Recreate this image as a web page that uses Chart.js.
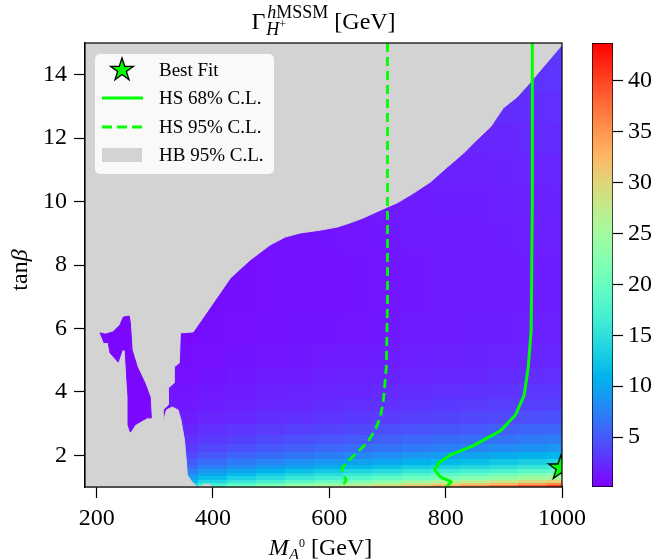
<!DOCTYPE html>
<html>
<head>
<meta charset="utf-8">
<title>Charged Higgs width, hMSSM</title>
<script src="https://cdn.jsdelivr.net/npm/chart.js@4.4.1/dist/chart.umd.min.js"></script>
<style>
  html, body { margin: 0; padding: 0; background: #fff; }
  #wrap { position: relative; width: 659px; height: 559px; }
  #wrap canvas { position: absolute; top: 0; }
  #mainChart { left: 0; }
  #cbChart { left: 570px; }
</style>
</head>
<body>
<div id="wrap">
  <canvas id="mainChart" width="659" height="559"></canvas>
  <canvas id="cbChart" width="89" height="559"></canvas>
</div>
<script>
// ---- data ----
const massA = [200, 250, 300, 350, 400, 450, 500, 550, 600, 650, 700, 750, 800, 850, 900, 950, 1000];
const tanBeta = [1.0, 1.05, 1.1, 1.2, 1.3, 1.4, 1.5, 1.65, 1.8, 2.0, 2.25, 2.5, 2.8, 3.2, 3.6, 4.0, 4.5, 5, 6, 7, 8, 9, 10, 11, 12, 13, 14, 15];

// Gamma(H+) in GeV, one row per tanBeta, one column per massA
const widthGeV = [
  [2.2, 6.5, 11.7, 16.1, 19.6, 22.2, 24.4, 26.5, 28.3, 30.5, 32.2, 34.4, 36.1, 37.8, 39.6, 41.8, 43.5],
  [2.0, 6.0, 10.8, 14.8, 18.0, 20.4, 22.4, 24.4, 26.0, 28.0, 29.6, 31.6, 33.2, 34.8, 36.4, 38.4, 40.0],
  [1.8, 5.4, 9.7, 13.3, 16.2, 18.4, 20.2, 22.0, 23.4, 25.2, 26.6, 28.4, 29.9, 31.3, 32.8, 34.6, 36.0],
  [1.5, 4.6, 8.2, 11.3, 13.7, 15.6, 17.1, 18.6, 19.8, 21.4, 22.6, 24.1, 25.3, 26.5, 27.8, 29.3, 30.5],
  [1.3, 3.9, 7.0, 9.6, 11.7, 13.3, 14.6, 15.9, 16.9, 18.2, 19.2, 20.5, 21.6, 22.6, 23.7, 25.0, 26.0],
  [1.1, 3.4, 6.1, 8.3, 10.1, 11.5, 12.6, 13.7, 14.6, 15.8, 16.7, 17.8, 18.7, 19.6, 20.5, 21.6, 22.5],
  [1.0, 2.9, 5.3, 7.2, 8.8, 9.9, 10.9, 11.9, 12.7, 13.7, 14.4, 15.4, 16.2, 17.0, 17.7, 18.7, 19.5],
  [0.8, 2.4, 4.4, 6.0, 7.3, 8.3, 9.1, 9.9, 10.5, 11.3, 12.0, 12.8, 13.4, 14.1, 14.7, 15.6, 16.2],
  [0.7, 2.1, 3.7, 5.1, 6.2, 7.0, 7.7, 8.4, 8.9, 9.6, 10.1, 10.8, 11.4, 11.9, 12.5, 13.2, 13.7],
  [0.6, 1.7, 3.0, 4.1, 5.0, 5.7, 6.3, 6.8, 7.3, 7.8, 8.3, 8.8, 9.3, 9.7, 10.2, 10.8, 11.2],
  [0.5, 1.3, 2.4, 3.3, 4.0, 4.5, 5.0, 5.4, 5.8, 6.2, 6.6, 7.0, 7.4, 7.7, 8.1, 8.5, 8.9],
  [0.4, 1.1, 2.0, 2.7, 3.3, 3.7, 4.1, 4.5, 4.7, 5.1, 5.4, 5.8, 6.1, 6.4, 6.6, 7.0, 7.3],
  [0.3, 0.9, 1.6, 2.2, 2.7, 3.0, 3.3, 3.6, 3.8, 4.1, 4.4, 4.7, 4.9, 5.1, 5.4, 5.7, 5.9],
  [0.2, 0.7, 1.2, 1.7, 2.1, 2.3, 2.6, 2.8, 3.0, 3.2, 3.4, 3.6, 3.8, 4.0, 4.2, 4.4, 4.6],
  [0.2, 0.6, 1.0, 1.4, 1.7, 1.9, 2.1, 2.3, 2.5, 2.7, 2.8, 3.0, 3.2, 3.3, 3.5, 3.6, 3.8],
  [0.2, 0.5, 0.9, 1.2, 1.4, 1.6, 1.8, 2.0, 2.1, 2.2, 2.4, 2.5, 2.7, 2.8, 2.9, 3.1, 3.2],
  [0.1, 0.4, 0.7, 1.0, 1.2, 1.4, 1.5, 1.6, 1.8, 1.9, 2.0, 2.1, 2.2, 2.3, 2.5, 2.6, 2.7],
  [0.1, 0.3, 0.6, 0.9, 1.0, 1.2, 1.3, 1.4, 1.5, 1.6, 1.7, 1.8, 1.9, 2.0, 2.1, 2.2, 2.3],
  [0.1, 0.3, 0.5, 0.7, 0.9, 1.0, 1.1, 1.2, 1.2, 1.3, 1.4, 1.5, 1.6, 1.7, 1.7, 1.8, 1.9],
  [0.1, 0.3, 0.5, 0.6, 0.8, 0.9, 1.0, 1.1, 1.1, 1.2, 1.3, 1.4, 1.5, 1.5, 1.6, 1.7, 1.75],
  [0.1, 0.3, 0.5, 0.6, 0.8, 0.9, 1.0, 1.1, 1.1, 1.2, 1.3, 1.4, 1.5, 1.5, 1.6, 1.7, 1.75],
  [0.1, 0.3, 0.5, 0.7, 0.8, 0.9, 1.0, 1.1, 1.2, 1.3, 1.4, 1.5, 1.5, 1.6, 1.7, 1.8, 1.85],
  [0.1, 0.3, 0.5, 0.7, 0.9, 1.0, 1.1, 1.2, 1.3, 1.4, 1.5, 1.6, 1.7, 1.7, 1.8, 1.9, 2.0],
  [0.1, 0.3, 0.6, 0.8, 1.0, 1.1, 1.2, 1.3, 1.4, 1.5, 1.6, 1.7, 1.8, 1.9, 2.0, 2.1, 2.2],
  [0.1, 0.4, 0.7, 0.9, 1.1, 1.2, 1.4, 1.5, 1.6, 1.7, 1.8, 1.9, 2.0, 2.1, 2.2, 2.4, 2.45],
  [0.1, 0.4, 0.7, 1.0, 1.2, 1.4, 1.5, 1.6, 1.8, 1.9, 2.0, 2.1, 2.2, 2.3, 2.5, 2.6, 2.7],
  [0.2, 0.5, 0.8, 1.1, 1.4, 1.5, 1.7, 1.8, 2.0, 2.1, 2.2, 2.4, 2.5, 2.6, 2.7, 2.9, 3.0],
  [0.2, 0.5, 0.9, 1.2, 1.5, 1.7, 1.8, 2.0, 2.1, 2.3, 2.4, 2.6, 2.7, 2.9, 3.0, 3.2, 3.3]
];

// HiggsBounds 95% excluded region (M_A, tanBeta), traced around its edge
const hbExcluded = [
  [180, 15], [1000, 15], [1000, 14.94], [968, 14.25], [946, 13.77], [923, 13.30], [899, 12.95],
  [877, 12.35], [848, 11.85], [831, 11.53], [803, 11.09], [774, 10.62], [745, 10.27], [717, 9.96],
  [700, 9.83], [658, 9.48], [636, 9.33], [614, 9.20], [585, 9.10], [550, 9.01], [524, 8.88],
  [498, 8.63], [464, 8.16], [430, 7.59], [404, 6.90], [366, 5.89], [344, 5.86], [342, 4.91],
  [333, 4.78], [333, 4.28], [323, 4.12], [323, 3.59], [314, 3.43], [314, 3.02], [320, 3.43],
  [330, 3.52], [340, 3.43], [345, 3.11], [351, 2.48], [354, 1.85], [356, 1.38], [364, 1.16],
  [373, 1.0], [378, 1.0], [385, 1.09], [394, 1.09], [399, 1.0], [180, 1.0]
];
// allowed island inside the excluded region
const hbIsland = [
  [213, 5.54], [206, 5.86], [215, 5.82], [228, 5.89], [240, 6.11], [246, 6.36], [256, 6.39],
  [258, 6.17], [261, 5.32], [270, 4.78], [283, 4.28], [292, 3.84], [294, 3.18], [287, 3.18],
  [280, 3.11], [266, 2.96], [258, 2.73], [254, 2.96], [254, 3.84], [252, 4.37], [249, 5.32],
  [244, 5.32], [237, 4.94], [223, 5.23], [220, 5.54]
];
const islandWidth = 0.5;

// HiggsSignals contours
const hs68 = [
  [949, 15], [949, 10.05], [947, 5.95], [942, 4.78], [935, 3.90], [920, 3.27], [894, 2.77],
  [846, 2.29], [808, 2.01], [788, 1.76], [781, 1.54], [791, 1.32], [810, 1.16], [801, 1.0]
];
const hs95 = [
  [700, 15], [700, 6.90], [698, 4.78], [693, 3.74], [688, 3.22], [679, 2.80], [665, 2.39],
  [648, 2.10], [631, 1.79], [622, 1.60], [624, 1.38], [629, 1.22], [622, 1.0]
];
const bestFit = [998, 1.6];

const massTicks = [200, 400, 600, 800, 1000];
const tanbTicks = [2, 4, 6, 8, 10, 12, 14];
const cbTicks = [5, 10, 15, 20, 25, 30, 35, 40];
const cbMin = 0.1, cbMax = 43.7;
const legendLabels = ['Best Fit', 'HS 68% C.L.', 'HS 95% C.L.', 'HB 95% C.L.'];

// ---- styling ----
const SERIF = "'Liberation Serif', 'Times New Roman', serif";
const LIME = '#00ff00';
const HB_GRAY = '#d3d3d3';
const fnt = (size, italic) => (italic ? 'italic ' : '') + size + 'px ' + SERIF;

// matplotlib "rainbow"
function rainbow(f) {
  f = Math.min(1, Math.max(0, f));
  const r = Math.min(1, Math.abs(2 * f - 0.5));
  const g = Math.sin(Math.PI * f);
  const b = Math.cos(Math.PI * f / 2);
  return `rgb(${Math.round(r * 255)},${Math.round(g * 255)},${Math.round(b * 255)})`;
}
const widthColor = v => rainbow((v - cbMin) / (cbMax - cbMin));
const toXY = arr => arr.map(([x, y]) => ({ x, y }));

function cellEdges(centers, lo, hi) {
  return centers.map((c, i) => [
    i === 0 ? lo : (centers[i - 1] + c) / 2,
    i === centers.length - 1 ? hi : (c + centers[i + 1]) / 2
  ]);
}

function makeStar(R) {
  const c = document.createElement('canvas');
  const s = Math.ceil(R * 2 + 4);
  c.width = s; c.height = s;
  const g = c.getContext('2d');
  g.beginPath();
  for (let k = 0; k < 10; k++) {
    const r = k % 2 ? R * 0.382 : R;
    const a = -Math.PI / 2 + k * Math.PI / 5;
    g.lineTo(s / 2 + r * Math.cos(a), s / 2 + r * Math.sin(a));
  }
  g.closePath();
  g.fillStyle = LIME;
  g.fill();
  g.lineWidth = 1.3;
  g.strokeStyle = '#000';
  g.stroke();
  return c;
}
const starImg = makeStar(13);
const starLegend = makeStar(12);

function runWidth(ctx, parts) {
  let w = 0;
  for (const [txt, size, it] of parts) { ctx.font = fnt(size, it); w += ctx.measureText(txt).width; }
  return w;
}
function drawRun(ctx, parts, x, base) {
  for (const [txt, size, it, dy] of parts) {
    ctx.font = fnt(size, it);
    ctx.fillText(txt, x, base + dy);
    x += ctx.measureText(txt).width;
  }
  return x;
}

// heatmap cells, drawn under the datasets
const heatmapPlugin = {
  id: 'heatmap',
  beforeDatasetsDraw(chart) {
    const { ctx, chartArea: a, scales: { x, y } } = chart;
    const xe = cellEdges(massA, x.min, x.max);
    const ye = cellEdges(tanBeta, y.min, y.max);
    ctx.save();
    ctx.beginPath();
    ctx.rect(a.left, a.top, a.right - a.left, a.bottom - a.top);
    ctx.clip();
    ye.forEach(([t0, t1], i) => {
      const py0 = y.getPixelForValue(t1), py1 = y.getPixelForValue(t0);
      xe.forEach(([m0, m1], j) => {
        const px0 = x.getPixelForValue(m0), px1 = x.getPixelForValue(m1);
        ctx.fillStyle = widthColor(widthGeV[i][j]);
        ctx.fillRect(Math.floor(px0), Math.floor(py0), Math.ceil(px1) - Math.floor(px0), Math.ceil(py1) - Math.floor(py0));
      });
    });
    ctx.restore();
  }
};

// frame, titles and legend
const decorPlugin = {
  id: 'decor',
  afterDatasetsDraw(chart) {
    const { ctx, chartArea: a } = chart;
    ctx.save();
    ctx.strokeStyle = '#000';
    ctx.lineWidth = 1.2;
    ctx.strokeRect(a.left, a.top, a.right - a.left, a.bottom - a.top);
    ctx.restore();
  },
  afterDraw(chart) {
    const { ctx, chartArea: a } = chart;
    const cx = (a.left + a.right) / 2;
    ctx.save();
    ctx.fillStyle = '#000';
    ctx.textAlign = 'left';
    ctx.textBaseline = 'alphabetic';

    // title
    const gam = [['\u0393', 24, false, 0]];
    const sup = [['h', 18, true, -11], ['MSSM', 18, false, -11]];
    const sub = [['H', 18, true, 6], ['+', 12, false, -1]];
    const tail = [[' [GeV]', 24, false, 0]];
    const wg = runWidth(ctx, gam), ws = Math.max(runWidth(ctx, sup), runWidth(ctx, sub));
    let x0 = cx - (wg + 2 + ws + runWidth(ctx, tail)) / 2;
    const tb = 29;
    drawRun(ctx, gam, x0, tb);
    drawRun(ctx, sup, x0 + wg + 2, tb);
    drawRun(ctx, sub, x0 + wg + 1, tb);
    drawRun(ctx, tail, x0 + wg + 2 + ws, tb);

    // x title
    const xt = [['M', 24, true, 0], ['A', 17, true, 5], ['0', 12, false, -8], [' [GeV]', 24, false, 0]];
    drawRun(ctx, xt, cx - runWidth(ctx, xt) / 2 - 3, 555);

    // y title
    const yt = [['tan', 24, false, 0], ['\u03B2', 24, true, 0]];
    ctx.save();
    ctx.translate(27, (a.top + a.bottom) / 2 + 5);
    ctx.rotate(-Math.PI / 2);
    drawRun(ctx, yt, -runWidth(ctx, yt) / 2, 0);
    ctx.restore();

    // legend
    ctx.fillStyle = 'rgba(255,255,255,0.85)';
    ctx.beginPath();
    ctx.roundRect(95, 54, 179, 120, 5);
    ctx.fill();
    const rows = [70, 98, 127, 155];
    ctx.drawImage(starLegend, 122 - starLegend.width / 2, rows[0] - starLegend.height / 2);
    ctx.strokeStyle = LIME;
    ctx.lineWidth = 2.8;
    ctx.beginPath(); ctx.moveTo(102, rows[1]); ctx.lineTo(143, rows[1]); ctx.stroke();
    ctx.setLineDash([10, 5]);
    ctx.beginPath(); ctx.moveTo(102, rows[2]); ctx.lineTo(143, rows[2]); ctx.stroke();
    ctx.setLineDash([]);
    ctx.fillStyle = HB_GRAY;
    ctx.fillRect(102, rows[3] - 7, 40, 14);
    ctx.fillStyle = '#000';
    ctx.font = fnt(19, false);
    ctx.textBaseline = 'middle';
    legendLabels.forEach((lab, i) => ctx.fillText(lab, 159, rows[i] + 1));
    ctx.restore();
  }
};

const axisCommon = {
  type: 'linear',
  grid: { drawOnChartArea: false, drawTicks: true, tickLength: 11, color: '#000', tickColor: '#000', tickWidth: 1.2 },
  border: { display: true, color: '#000', width: 1.2 },
  ticks: { color: '#000', font: { family: SERIF, size: 24 }, autoSkip: false, maxRotation: 0, callback: v => String(v) }
};

new Chart(document.getElementById('mainChart'), {
  type: 'scatter',
  data: {
    datasets: [
      {
        label: 'Best Fit', data: [{ x: bestFit[0], y: bestFit[1] }],
        pointStyle: starImg, pointRadius: 13, clip: 0, order: 0
      },
      {
        type: 'line', label: 'HS 68% C.L.', data: toXY(hs68), borderColor: LIME, borderWidth: 3,
        pointRadius: 0, tension: 0, fill: false, borderJoinStyle: 'round', order: 1
      },
      {
        type: 'line', label: 'HS 95% C.L.', data: toXY(hs95), borderColor: LIME, borderWidth: 2.8,
        borderDash: [9, 5], pointRadius: 0, tension: 0, fill: false, order: 2
      },
      {
        type: 'line', label: 'island', data: toXY(hbIsland), borderColor: widthColor(islandWidth),
        backgroundColor: widthColor(islandWidth), borderWidth: 1, pointRadius: 0, tension: 0, fill: 'shape', order: 3
      },
      {
        type: 'line', label: 'HB 95% C.L.', data: toXY(hbExcluded), borderColor: HB_GRAY,
        backgroundColor: HB_GRAY, borderWidth: 1, pointRadius: 0, tension: 0, fill: 'shape', order: 4
      }
    ]
  },
  options: {
    responsive: false,
    animation: false,
    devicePixelRatio: 1,
    layout: { padding: { left: 25, top: 43, right: 97, bottom: 0 } },
    plugins: { legend: { display: false }, tooltip: { enabled: false }, title: { display: false } },
    scales: {
      x: {
        ...axisCommon, min: 180, max: 1000,
        ticks: { ...axisCommon.ticks, padding: 6 },
        afterBuildTicks: s => { s.ticks = massTicks.map(v => ({ value: v })); },
        afterFit: s => { s.height = 72; }
      },
      y: {
        ...axisCommon, min: 1, max: 15,
        ticks: { ...axisCommon.ticks, padding: 7 },
        afterBuildTicks: s => { s.ticks = tanbTicks.map(v => ({ value: v })); },
        afterFit: s => { s.width = 60; }
      }
    }
  },
  plugins: [heatmapPlugin, decorPlugin]
});

// colour bar
new Chart(document.getElementById('cbChart'), {
  type: 'bar',
  data: {
    labels: [''],
    datasets: [{
      data: [[cbMin, cbMax]],
      backgroundColor(c) {
        const ch = c.chart;
        if (!ch.chartArea) return widthColor(cbMin);
        const ys = ch.scales.y;
        const g = ch.ctx.createLinearGradient(0, ys.getPixelForValue(cbMin), 0, ys.getPixelForValue(cbMax));
        for (let k = 0; k <= 40; k++) g.addColorStop(k / 40, rainbow(k / 40));
        return g;
      },
      borderColor: '#000', borderWidth: 1, borderSkipped: false,
      barPercentage: 1, categoryPercentage: 1
    }]
  },
  options: {
    responsive: false,
    animation: false,
    devicePixelRatio: 1,
    layout: { padding: { left: 22, top: 43, right: 0, bottom: 72 } },
    plugins: { legend: { display: false }, tooltip: { enabled: false } },
    scales: {
      x: { display: false },
      y: {
        position: 'right', min: cbMin, max: cbMax,
        grid: { drawOnChartArea: false, drawTicks: true, tickLength: 10, color: '#000', tickColor: '#000', tickWidth: 1.2 },
        border: { display: false },
        ticks: { color: '#000', font: { family: SERIF, size: 24 }, padding: 5, callback: v => String(v) },
        afterBuildTicks: s => { s.ticks = cbTicks.map(v => ({ value: v })); },
        afterFit: s => { s.width = 46; }
      }
    }
  }
});
</script>
</body>
</html>
